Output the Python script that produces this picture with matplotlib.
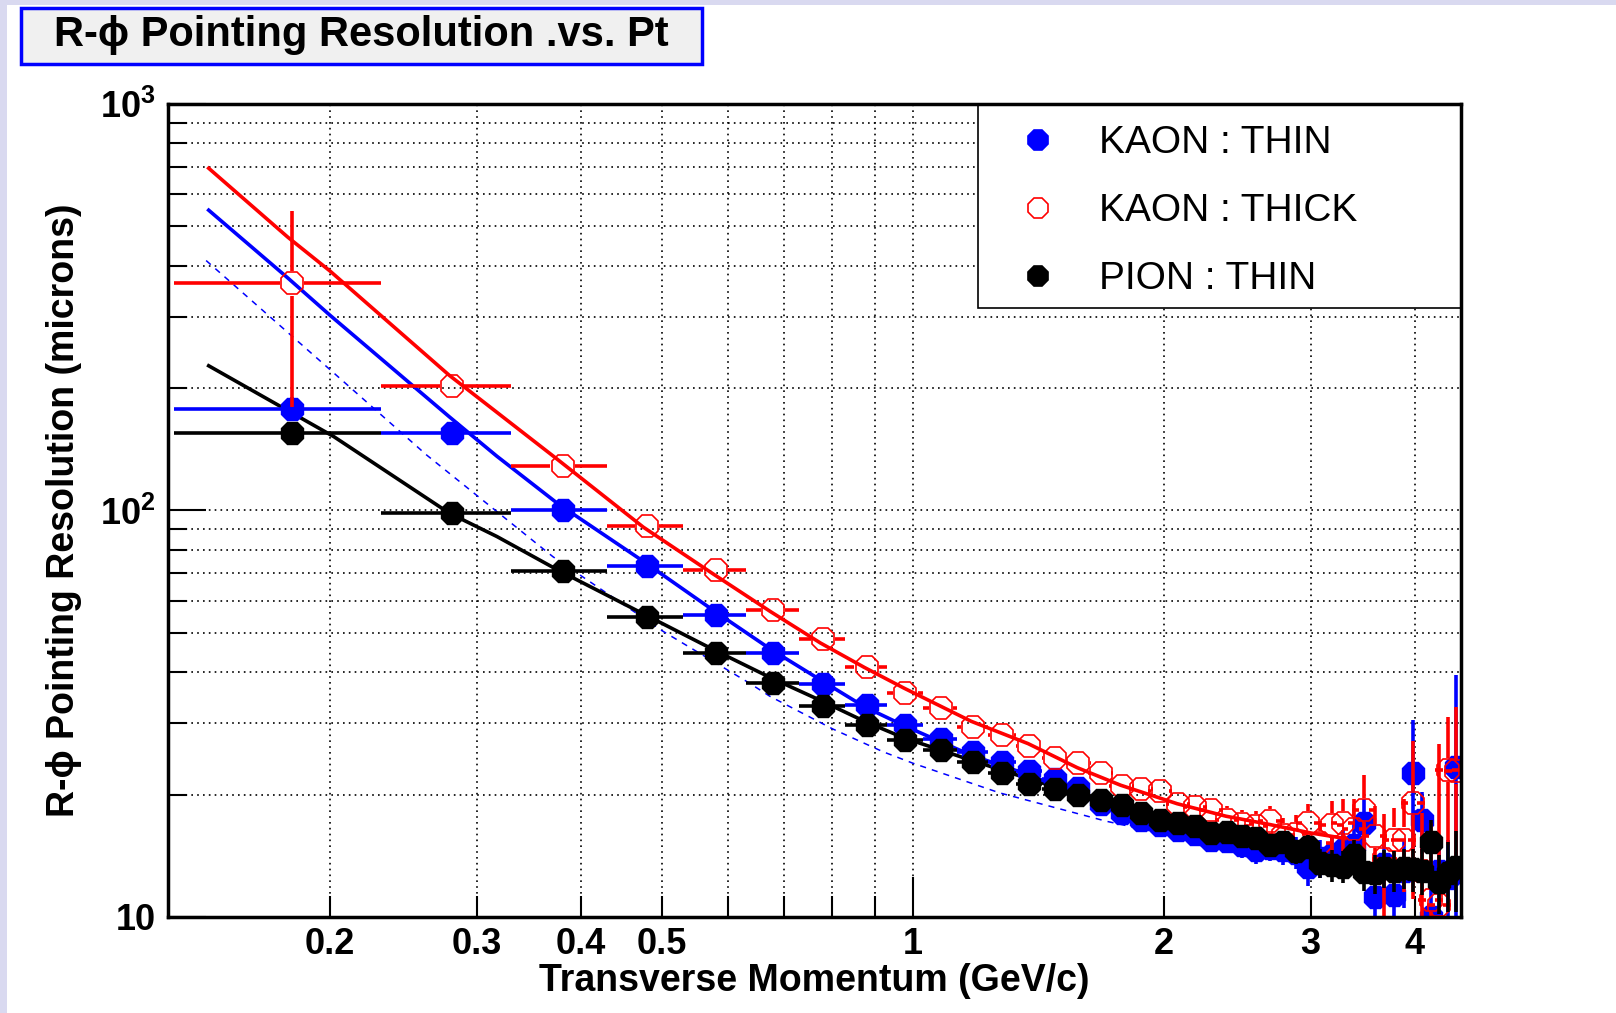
import math

import matplotlib
matplotlib.use("Agg")
import matplotlib.pyplot as plt
from matplotlib.patches import Rectangle
from matplotlib.ticker import FixedLocator, FixedFormatter
from matplotlib.lines import Line2D

plt.rcParams["font.family"] = ["Liberation Sans", "DejaVu Sans"]
plt.rcParams["font.weight"] = "bold"
plt.rcParams["mathtext.fontset"] = "custom"
plt.rcParams["mathtext.rm"] = "Liberation Sans:bold"
plt.rcParams["mathtext.it"] = "Liberation Sans:bold"
plt.rcParams["mathtext.bf"] = "Liberation Sans:bold"

# bin centres (GeV/c), bin half width 0.05
pt = [0.18, 0.28, 0.38, 0.48, 0.58, 0.68, 0.78, 0.88, 0.98, 1.08,
      1.18, 1.28, 1.38, 1.48, 1.58, 1.68, 1.78, 1.88, 1.98, 2.08,
      2.18, 2.28, 2.38, 2.48, 2.58, 2.68, 2.78, 2.88, 2.98, 3.08,
      3.18, 3.28, 3.38, 3.48, 3.58, 3.68, 3.78, 3.88, 3.98, 4.08,
      4.18, 4.28, 4.38, 4.48]
pt_halfwidth = 0.05

kaon_thin = [178, 155, 100, 73.2, 55.3, 44.6, 37.5, 33.3, 29.7, 27.4,
             25.5, 24.0, 22.8, 21.8, 20.8, 19.0, 18.0, 17.3, 16.8, 16.4,
             16.0, 15.5, 15.4, 15.0, 14.6, 14.8, 14.6, 14.4, 13.3, 14.0,
             14.2, 14.6, 15.0, 17.0, 11.2, 13.5, 11.3, 13.0, 22.6, 17.3,
             10.0, 13.0, 12.5, 23.4]
kaon_thin_err = [12, 6, 3, 2, 1.5, 1.2, 1, 1, 0.9, 0.9,
                 0.9, 0.9, 0.9, 0.9, 0.9, 0.9, 0.9, 0.9, 0.9, 0.9,
                 1.0, 1.0, 1.0, 1.0, 1.1, 1.1, 1.2, 1.3, 1.4, 1.5,
                 1.6, 1.8, 2.0, 2.5, 1.5, 2.0, 1.5, 2.5, 8.0, 3.0,
                 2.0, 2.5, 3.0, 16.0]

kaon_thick = [362, 203, 129, 91.8, 71.5, 56.9, 48.3, 41.3, 35.6, 32.6,
              29.3, 28.1, 26.4, 24.6, 23.9, 22.6, 21.0, 20.6, 20.4, 19.0,
              18.6, 18.3, 17.3, 16.9, 16.7, 17.2, 15.9, 16.0, 17.0, 15.2,
              16.8, 17.0, 16.5, 18.3, 15.8, 13.9, 15.5, 15.5, 19.1, 13.0,
              11.0, 10.7, 23.0, 22.8]
kaon_thick_err = [182, 14, 7, 4, 3, 2.5, 2, 1.5, 1.3, 1.2,
                  1.2, 1.2, 1.2, 1.2, 1.2, 1.2, 1.2, 1.2, 1.2, 1.2,
                  1.3, 1.3, 1.4, 1.4, 1.5, 1.5, 1.6, 1.8, 2.0, 2.0,
                  2.5, 2.5, 3.0, 4.0, 3.0, 4.0, 3.0, 4.0, 8.0, 5.0,
                  6.0, 16.0, 8.0, 10.0]

pion_thin = [155, 98.6, 71.1, 54.7, 44.6, 37.6, 33.1, 29.7, 27.3, 25.8,
             24.1, 22.6, 21.3, 20.6, 20.0, 19.4, 18.9, 18.0, 17.3, 17.0,
             16.7, 16.1, 16.2, 15.8, 15.6, 15.0, 15.3, 14.5, 14.9, 13.6,
             13.4, 13.3, 14.2, 12.9, 12.8, 13.2, 13.0, 13.2, 13.1, 13.0,
             15.3, 12.2, 12.8, 13.3]
pion_thin_err = [8, 3, 2, 1.5, 1.2, 1.0, 0.8, 0.8, 0.7, 0.7,
                 0.7, 0.7, 0.7, 0.7, 0.7, 0.7, 0.7, 0.7, 0.7, 0.7,
                 0.8, 0.8, 0.8, 0.8, 0.8, 0.9, 0.9, 1.0, 1.0, 1.1,
                 1.2, 1.2, 1.3, 1.3, 1.4, 1.4, 1.5, 1.5, 1.6, 1.7,
                 2.0, 2.0, 2.5, 3.0]

# fitted curves
fit_thick_pt = [0.143, 0.178, 0.2, 0.278, 0.374, 0.475, 0.575, 0.675, 0.775, 0.875,
                0.975, 1.175, 1.375, 1.575, 1.775, 2.075, 2.375, 2.675, 3.0, 3.3]
fit_thick = [695, 470, 388, 215, 134, 91, 70, 56.4, 47.2, 41.1,
             36.6, 30.3, 26.7, 23.3, 21.1, 19.0, 17.7, 16.9, 16.1, 15.6]

fit_thin_pt = [0.143, 0.178, 0.2, 0.278, 0.317, 0.375, 0.475, 0.575, 0.675, 0.775,
               0.875, 0.975, 1.175, 1.375, 1.575, 1.775, 2.075, 2.5, 3.0, 3.3]
fit_thin = [548, 373, 302, 170, 136, 104, 75, 57, 45.6, 38.3,
            32.9, 29.6, 25.0, 22.4, 20.1, 18.6, 16.9, 15.3, 14.2, 13.7]

fit_pion_pt = [0.143, 0.202, 0.278, 0.317, 0.375, 0.475, 0.575, 0.675, 0.775, 0.875,
               0.975, 1.175, 1.375, 1.575, 1.775, 2.075, 2.5, 3.0, 3.3]
fit_pion = [227, 152, 98.5, 86.3, 71.4, 55.7, 45.6, 38.8, 34.1, 30.3,
            27.6, 24.3, 21.9, 20.1, 18.8, 17.2, 15.8, 14.5, 14.0]

ideal_pt = [0.142, 0.202, 0.261, 0.370, 0.502, 0.637, 0.674, 0.802, 0.921, 1.0,
            1.271, 1.707, 1.978, 2.5, 3.0]
ideal = [412, 218, 137, 77, 50.4, 37.6, 34.9, 29.0, 25.5, 23.9,
         20.2, 17.2, 16.1, 14.8, 13.8]

W, H = 1616, 1013
XMIN, XMAX, YMIN, YMAX = 0.1278, 4.546, 10, 1000
MS = 17.5
LW = 2.6

fig = plt.figure(figsize=(W / 100, H / 100), dpi=100)
fig.patch.set_facecolor("white")

# canvas frame strips
fig.add_artist(Rectangle((0, 0), 7 / W, 1, transform=fig.transFigure,
                         facecolor="#d9d9f0", edgecolor="none", zorder=0))
fig.add_artist(Rectangle((0, 1 - 5 / H), 1, 5 / H, transform=fig.transFigure,
                         facecolor="#d9d9f0", edgecolor="none", zorder=0))

# title pave
fig.add_artist(Rectangle((21 / W, 1 - 64 / H), 681 / W, 56 / H, transform=fig.transFigure,
                         facecolor="#f0f0f0", edgecolor="#0000ff", linewidth=2.5, zorder=1))
fig.text(361 / W, 1 - 35 / H, "R-\u03d5 Pointing Resolution .vs. Pt", ha="center", va="center",
         fontsize=30, fontweight="bold", zorder=2)

ax = fig.add_axes([168 / W, 1 - 917 / H, 1293 / W, 813 / H])
ax.set_xscale("log")
ax.set_yscale("log")
ax.set_xlim(XMIN, XMAX)
ax.set_ylim(YMIN, YMAX)

ax.xaxis.set_major_locator(FixedLocator([1]))
ax.xaxis.set_major_formatter(FixedFormatter(["1"]))
ax.set_xticks([0.2, 0.3, 0.4, 0.5, 0.6, 0.7, 0.8, 0.9, 2, 3, 4],
              labels=["0.2", "0.3", "0.4", "0.5", "", "", "", "", "2", "3", "4"], minor=True)
ax.set_yticks([10, 100, 1000], labels=["10", "$10^{2}$", "$10^{3}$"])
ax.set_yticks([20, 30, 40, 50, 60, 70, 80, 90, 200, 300, 400, 500, 600, 700, 800, 900],
              labels=[""] * 16, minor=True)

ax.tick_params(which="both", direction="in", top=False, right=False, width=1.5,
               labelsize=26, colors="black")
ax.tick_params(axis="x", which="major", length=29, pad=7)
ax.tick_params(axis="x", which="minor", length=15, pad=7)
ax.tick_params(axis="y", which="major", length=27, pad=9)
ax.tick_params(axis="y", which="minor", length=14, pad=9)

ax.set_axisbelow(True)
ax.grid(True, which="both", color="black", linestyle=(0, (1, 2.5)), linewidth=1.2)
for sp in ax.spines.values():
    sp.set_linewidth(2.5)
    sp.set_zorder(20)

ax.set_xlabel("Transverse Momentum (GeV/c)", fontsize=27, fontweight="bold")
ax.xaxis.set_label_coords(0.5, -0.056)
ax.set_ylabel("R-\u03d5 Pointing Resolution (microns)", fontsize=27, fontweight="bold")
ax.yaxis.set_label_coords(-0.0665, 0.5)

# fit curves
ax.plot(ideal_pt, ideal, color="#0000ff", linewidth=1.1, linestyle=(0, (4, 4)), zorder=1.5)
ax.plot(fit_pion_pt, fit_pion, color="black", linewidth=LW, zorder=1.6)
ax.plot(fit_thin_pt, fit_thin, color="#0000ff", linewidth=LW, zorder=1.6)
ax.plot(fit_thick_pt, fit_thick, color="#ff0000", linewidth=LW, zorder=2.3)


def asym(vals, errs):
    lo = [min(e, 0.95 * v) for v, e in zip(vals, errs)]
    return [lo, errs]


ax.errorbar(pt, kaon_thin, xerr=pt_halfwidth, yerr=asym(kaon_thin, kaon_thin_err), fmt="8",
            ms=MS, color="#0000ff", mec="#0000ff", mfc="#0000ff", elinewidth=LW,
            capsize=0, zorder=2.0)

# open markers: error bars stop at the marker edge, as ROOT draws them
r_px = MS * 100 / 72 / 2
fx = 10 ** (r_px / (1293 / math.log10(XMAX / XMIN)))
fy = 10 ** (r_px / (813 / math.log10(YMAX / YMIN)))
lo_thick = asym(kaon_thick, kaon_thick_err)[0]
for x, y, elo, ehi in zip(pt, kaon_thick, lo_thick, kaon_thick_err):
    ax.hlines(y, x - pt_halfwidth, x / fx, color="#ff0000", lw=LW, zorder=2.1)
    ax.hlines(y, x * fx, x + pt_halfwidth, color="#ff0000", lw=LW, zorder=2.1)
    if y + ehi > y * fy:
        ax.vlines(x, y * fy, y + ehi, color="#ff0000", lw=LW, zorder=2.1)
    if y - elo < y / fy:
        ax.vlines(x, y - elo, y / fy, color="#ff0000", lw=LW, zorder=2.1)
ax.plot(pt, kaon_thick, linestyle="none", marker="8", ms=MS, mec="#ff0000", mfc="none",
        mew=1.2, zorder=2.15)

ax.errorbar(pt, pion_thin, xerr=pt_halfwidth, yerr=asym(pion_thin, pion_thin_err), fmt="8",
            ms=MS, color="black", mec="black", mfc="black", elinewidth=LW,
            capsize=0, zorder=2.2)

# legend box
ax.add_patch(Rectangle((0.6265, 0.749), 0.3735, 0.251, transform=ax.transAxes,
                       facecolor="white", edgecolor="black", linewidth=1.2, zorder=10))
legend_rows = [("KAON : THIN", "#0000ff", "#0000ff"),
               ("KAON : THICK", "#ff0000", "none"),
               ("PION : THIN", "black", "black")]
row_y = [0.9555, 0.8718, 0.7882]
for (label, col, face), yy in zip(legend_rows, row_y):
    ax.add_line(Line2D([0.6727], [yy], marker="8", ms=15, color=col, mec=col, mfc=face,
                       mew=1.2, transform=ax.transAxes, zorder=11, clip_on=False))
    ax.text(0.7197, yy - 0.004, label, transform=ax.transAxes, fontsize=28, fontweight="normal",
            ha="left", va="center", zorder=11)

fig.savefig("out.png", dpi=100)
